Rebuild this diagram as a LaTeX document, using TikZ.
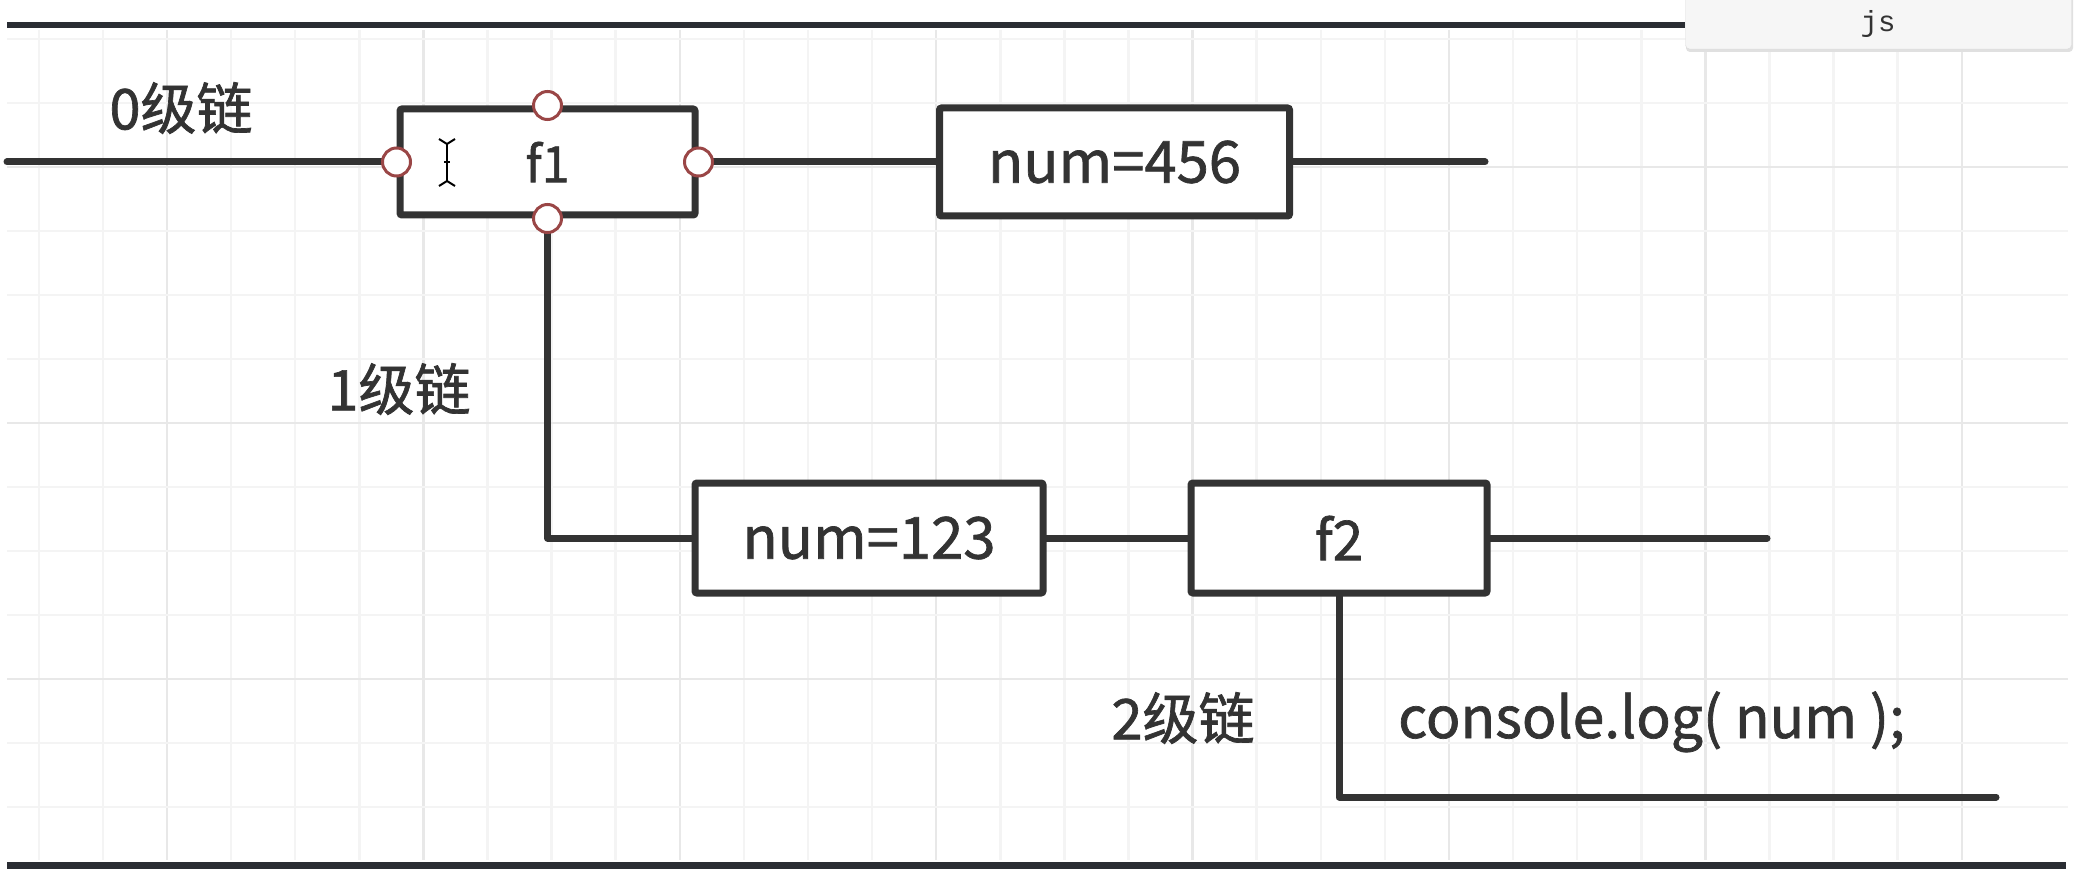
\documentclass[tikz,border=0pt]{standalone}
\usepackage{fontspec}
\setmainfont{Noto Sans CJK SC}[FakeBold=0.6,AutoFakeBold=0.6]
\newfontfamily\monofont{Liberation Mono}
\newfontfamily\heavyfont{Noto Sans CJK SC}[FakeBold=1.2]
\definecolor{ink}{HTML}{333333}
\definecolor{txt}{HTML}{333333}
\definecolor{portred}{HTML}{9A4646}
\definecolor{gridminor}{HTML}{F4F4F4}
\definecolor{gridmajor}{HTML}{E8E8E8}
\definecolor{barcol}{HTML}{2A2D33}
\tikzset{
  box/.style={draw=ink, line width=7, fill=white, rounded corners=2, inner sep=0, text=txt},
  port/.style={circle, draw=portred, fill=white, line width=3, minimum size=28, inner sep=0},
  wire/.style={draw=ink, line width=7, line cap=round, line join=round},
  lbl/.style={text=txt, inner sep=0, font=\heavyfont\fontsize{56}{60}\selectfont},
}
\begin{document}
\begin{tikzpicture}[x=1pt,y=-1pt]
\useasboundingbox (0,0) rectangle (2080,874);
\fill[white] (0,0) rectangle (2080,874);
% grid
\foreach \k in {0,...,30} {
  \pgfmathsetmacro{\gx}{38.8+64.1*\k}
  \pgfmathtruncatemacro{\mj}{mod(\k,4)==2 ? 1 : 0}
  \ifnum\mj=1
    \draw[gridmajor, line width=2.5] (\gx,30) -- (\gx,860);
  \else
    \draw[gridminor, line width=2.5] (\gx,30) -- (\gx,860);
  \fi
}
\foreach \k in {0,...,12} {
  \pgfmathsetmacro{\gy}{39+64*\k}
  \pgfmathtruncatemacro{\mj}{mod(\k,4)==2 ? 1 : 0}
  \ifnum\mj=1
    \draw[gridmajor, line width=2.5] (7,\gy) -- (2068,\gy);
  \else
    \draw[gridminor, line width=2.5] (7,\gy) -- (2068,\gy);
  \fi
}
% frame bars
\draw[barcol, line width=6] (7,25) -- (1685,25);
\draw[barcol, line width=7] (7,865) -- (2066,865);
% js tab
\fill[black!12, rounded corners=4] (1686,-6) rectangle (2073,52);
\node[draw=black!14, fill=black!3.5, rounded corners=4, minimum width=386, minimum height=56, inner sep=0] (jstab) at (1878.5,21) {};
\node[text=ink, font=\monofont\fontsize{29}{32}\selectfont] (jstext) at (1878,24) {js};

% boxes
\node[box, minimum width=295, minimum height=106, font=\heavyfont\fontsize{50}{54}\selectfont] (f1) at (547.5,162) {f1};
\node[box, minimum width=350, minimum height=108, font=\heavyfont\fontsize{58}{62}\selectfont] (n456) at (1114.5,162) {num=456};
\node[box, minimum width=348, minimum height=110, font=\heavyfont\fontsize{58}{62}\selectfont] (n123) at (869,538) {num=123};
\node[box, minimum width=296, minimum height=110, font=\heavyfont\fontsize{55}{60}\selectfont] (f2) at (1339,538) {f2};

% free ends
\coordinate (s0) at (7,162);
\coordinate (e0) at (1485,162);
\coordinate (e1) at (1767,538);
\coordinate (e2) at (1996,797);

% wires
\draw[wire] (s0) -- (f1.west);
\draw[wire] (f1.east) -- (n456.west);
\draw[wire] (n456.east) -- (e0);
\draw[wire] (f1.south) |- (n123.west);
\draw[wire] (n123.east) -- (f2.west);
\draw[wire] (f2.east) -- (e1);
\draw[wire] (f2.south) |- (e2);

% ports on f1
\node[port] (pl) at (f1.west) {};
\node[port] (pr) at (f1.east) {};
\node[port] (pt) at (f1.north) {};
\node[port] (pb) at (f1.south) {};

% cursor
\draw[black, line width=2] (439,139) -- (447,144) -- (455,139);
\draw[black, line width=2] (447,144) -- (447,181);
\draw[black, line width=2] (439,186) -- (447,181) -- (455,186);
\draw[black, line width=2] (444,162) -- (450,162);

% labels
\node[lbl] (l0) at (181,108) {0级链};
\node[lbl] (l1) at (399,389) {1级链};
\node[lbl] (l2) at (1183,718) {2级链};
\node[text=txt, inner sep=0, anchor=base west, font=\heavyfont\fontsize{57}{61}\selectfont] (log) at (1398,738) {console.log( num );};
\end{tikzpicture}
\end{document}
